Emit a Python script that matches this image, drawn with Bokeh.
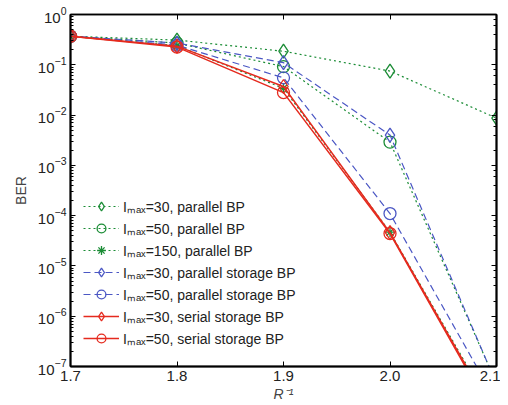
from bokeh.plotting import figure
from bokeh.models import (Legend, LegendItem, LinearAxis, LogAxis, FixedTicker,
                          PrintfTickFormatter, Range1d, CustomJSTickFormatter)
from bokeh.embed import file_html
from bokeh.resources import INLINE

# ---- data ----
x_vals = [1.7, 1.8, 1.9, 2.0, 2.1]
ber_p30 = [0.37, 0.31, 0.186, 0.075, 0.0087]
ber_p50 = [0.37, 0.27, 0.092, 0.0029, 4.6e-8]
ber_p150 = [0.37, 0.24, 0.034, 4.7e-5, 1.0e-8]
ber_ps30 = [0.37, 0.27, 0.11, 0.0040, 4.5e-8]
ber_ps50 = [0.37, 0.245, 0.055, 1.1e-4, 2.0e-8]
ber_ss30 = [0.37, 0.235, 0.037, 4.6e-5, 9.0e-9]
ber_ss50 = [0.37, 0.225, 0.028, 4.4e-5, 8.0e-9]
labels = [
    "Iₘₐₓ=30, parallel BP",
    "Iₘₐₓ=50, parallel BP",
    "Iₘₐₓ=150, parallel BP",
    "Iₘₐₓ=30, parallel storage BP",
    "Iₘₐₓ=50, parallel storage BP",
    "Iₘₐₓ=30, serial storage BP",
    "Iₘₐₓ=50, serial storage BP",
]
x_ticks = [1.7, 1.8, 1.9, 2.0, 2.1]

GREEN = "#1a8c35"
BLUE = "#4b57c4"
RED = "#e52a1e"
FONT = "Liberation Sans"

p = figure(width=500, height=397, output_backend="svg", toolbar_location=None,
           y_axis_type="log", x_range=Range1d(1.7, 2.1), y_range=Range1d(1e-7, 1),
           min_border_left=70, min_border_right=4, min_border_top=14, min_border_bottom=31)
p.frame_width = 426
p.frame_height = 352
p.xgrid.visible = False
p.ygrid.visible = False
p.outline_line_color = "black"
p.outline_line_width = 1.5

series = [
    (ber_p30, GREEN, "dotted", "diamond", 1.2),
    (ber_p50, GREEN, "dotted", "circle", 1.2),
    (ber_p150, GREEN, "dotted", "asterisk", 1.2),
    (ber_ps30, BLUE, "dashed", "diamond", 1.2),
    (ber_ps50, BLUE, "dashed", "circle", 1.2),
    (ber_ss30, RED, "solid", "diamond", 1.5),
    (ber_ss50, RED, "solid", "circle", 1.5),
]
dash_map = {"dotted": "2 3", "dashed": "7 4", "solid": "solid"}
items = []
for (ys, col, dash, mk, lw), lab in zip(series, labels):
    r1 = p.line(x_vals, ys, line_color=col, line_width=lw, line_dash=dash_map[dash])
    size = 14 if mk == "diamond" else (12 if mk == "circle" else 10)
    r2 = p.scatter(x_vals, ys, marker=mk, size=size, line_color=col, line_width=1.3,
                   fill_alpha=0)
    items.append(LegendItem(label=lab, renderers=[r1, r2]))

legend = Legend(items=items, location="bottom_left", padding=0, margin=0,
                border_line_alpha=0, background_fill_alpha=0,
                glyph_width=36, glyph_height=22, label_height=22, spacing=0,
                label_text_font=FONT, label_text_font_size="14px",
                label_text_color="#222222", label_standoff=4)
p.add_layout(legend)
legend.location = (13, 17)

# axes styling
for ax in [p.xaxis[0], p.yaxis[0]]:
    ax.axis_line_width = 2
    ax.major_tick_in = 5
    ax.major_tick_out = 0
    ax.minor_tick_in = 3
    ax.minor_tick_out = 0
    ax.major_label_text_font = FONT
    ax.major_label_text_font_size = "15px"
    ax.major_label_text_color = "#222222"
    ax.axis_label_text_font = FONT
    ax.axis_label_text_font_size = "14px"
    ax.axis_label_text_font_style = "normal"

p.xaxis[0].ticker = FixedTicker(ticks=x_ticks, minor_ticks=[])
p.xaxis[0].formatter = PrintfTickFormatter(format="%.1f")
p.xaxis[0].axis_label = "R⁻¹"
p.xaxis[0].axis_label_text_font_style = "italic"
p.xaxis[0].axis_label_standoff = 2
p.xaxis[0].major_label_standoff = 4
p.yaxis[0].axis_label = "BER"
p.yaxis[0].axis_label_standoff = 6
p.yaxis[0].major_label_standoff = 4

blank = CustomJSTickFormatter(code="return '';")
top = LinearAxis(ticker=FixedTicker(ticks=x_ticks, minor_ticks=[]), formatter=blank,
                 major_tick_in=5, major_tick_out=0,
                 minor_tick_out=0, axis_line_width=1.5)
right = LogAxis(formatter=blank, major_tick_in=5, major_tick_out=0,
                minor_tick_in=3, minor_tick_out=0, axis_line_width=2)
p.add_layout(top, "above")
p.add_layout(right, "right")

open("out.html", "w").write(file_html(p, INLINE))
